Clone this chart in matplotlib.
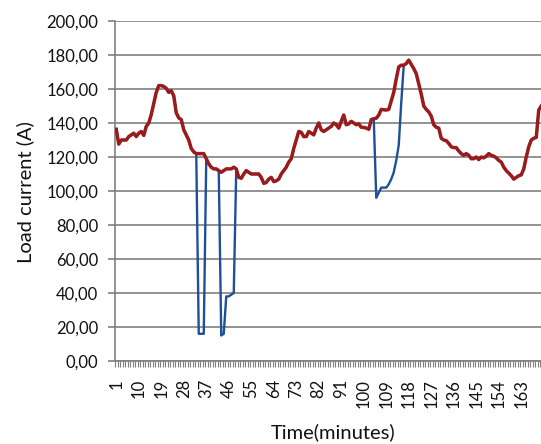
import matplotlib
matplotlib.use("Agg")
import matplotlib.pyplot as plt
from matplotlib.ticker import FixedLocator, FuncFormatter

# ---------------- data ----------------
minutes = list(range(1, 172))

load_red = [
    136.3, 127.6, 130, 130, 130, 132, 133, 134, 132, 134,
    135, 132.7, 138, 140, 145, 151.6, 158, 162, 162, 161.5,
    160.4, 158, 159, 156, 146, 143, 142, 136, 133, 130,
    125, 123, 122, 122, 122, 122, 119, 116, 114, 113,
    113, 112, 111, 112, 113, 113, 113, 114, 113, 108,
    107.5, 110, 112, 111, 110, 110, 110, 110, 108, 104.5,
    105, 107, 108, 105.5, 106, 107, 110, 112, 114, 117,
    119, 125, 130, 135, 134.5, 132, 132, 135, 134, 133,
    137, 140, 136, 135, 136, 137, 138, 140, 139, 137,
    141, 144.7, 139, 139.5, 141, 140, 139, 139.5, 137.5, 137.4,
    137, 136.3, 142, 142.5, 142.8, 144.7, 148, 147.8, 147.6, 148,
    153, 158, 166, 173, 174, 174, 175, 177, 174.5, 172,
    169, 163, 157, 150, 148, 146.5, 144, 139, 137.5, 137,
    131, 130, 129.6, 128, 126, 125.5, 125.5, 123.5, 122, 121,
    122, 121, 119, 119, 120, 118.5, 120, 119.5, 120.5, 122,
    121, 120.5, 119.5, 118, 117, 114, 112, 110.5, 109, 107,
    108, 109, 109.5, 113, 120, 126, 130, 131, 131.5, 147.6, 150,
]

# blue series follows red except at these minutes
blue_dip_minutes = [34, 35, 36,
                    43, 44, 45, 46, 47, 48,
                    105, 106, 107, 108, 109, 110, 111, 112, 113, 114, 115]
blue_dip_values = [16, 16, 16,
                   15, 16, 38, 38, 39, 40,
                   96, 99, 102, 102, 102, 104, 107, 111, 118, 127, 152]

yticks = [0, 20, 40, 60, 80, 100, 120, 140, 160, 180, 200]
xlabel_minutes = list(range(1, 164, 9))

load_blue = list(load_red)
for m, v in zip(blue_dip_minutes, blue_dip_values):
    load_blue[minutes.index(m)] = v

# ---------------- figure ----------------
plt.rcParams['font.family'] = ['Lato', 'DejaVu Sans']

W, H = 541, 444
fig = plt.figure(figsize=(W / 100, H / 100), dpi=100)
ax = fig.add_axes([115 / W, (H - 361) / H, (541 - 115) / W, (361 - 21) / H])

grid_c = '#808080'
ax.plot(minutes, load_blue, color='#1F4E9A', lw=1.7, zorder=3, solid_joinstyle='round')
ax.plot(minutes, load_red, color='#9A1B1B', lw=2.5, zorder=4, solid_joinstyle='round')

ax.set_xlim(0.5, 0.5 + (541 - 115) / 2.5)
ax.set_ylim(0, 200)

ax.set_yticks(yticks)
ax.yaxis.set_major_formatter(FuncFormatter(lambda v, p: f"{v:.2f}".replace('.', ',')))
ax.grid(axis='y', color=grid_c, lw=1.2)
ax.set_axisbelow(True)

ax.xaxis.set_major_locator(FixedLocator(xlabel_minutes))
ax.set_xticklabels([str(m) for m in xlabel_minutes], rotation=90)
ax.xaxis.set_minor_locator(FixedLocator([m - 0.5 for m in minutes] + [minutes[-1] + 0.5]))
ax.tick_params(axis='x', which='major', length=0, pad=13, labelsize=12, labelcolor='#111111')
ax.tick_params(axis='x', which='minor', length=4, width=0.8, color=grid_c, direction='out')
ax.tick_params(axis='y', which='major', length=5, width=1.2, color=grid_c, pad=7,
               labelsize=12, labelcolor='#111111')

for s in ['top', 'right']:
    ax.spines[s].set_visible(False)
for s in ['left', 'bottom']:
    ax.spines[s].set_color(grid_c)
    ax.spines[s].set_linewidth(1.2)

ax.set_ylabel('Load current (A)', fontsize=14.5, color='#111111')
ax.yaxis.set_label_coords(25 / W, (H - 192) / H, transform=fig.transFigure)
ax.set_xlabel('Time(minutes)', fontsize=14.5, color='#111111')
ax.xaxis.set_label_coords(333 / W, (H - 432) / H, transform=fig.transFigure)
ax.xaxis.label.set_va('center')
ax.yaxis.label.set_va('center')

fig.savefig('out.png', dpi=100)
